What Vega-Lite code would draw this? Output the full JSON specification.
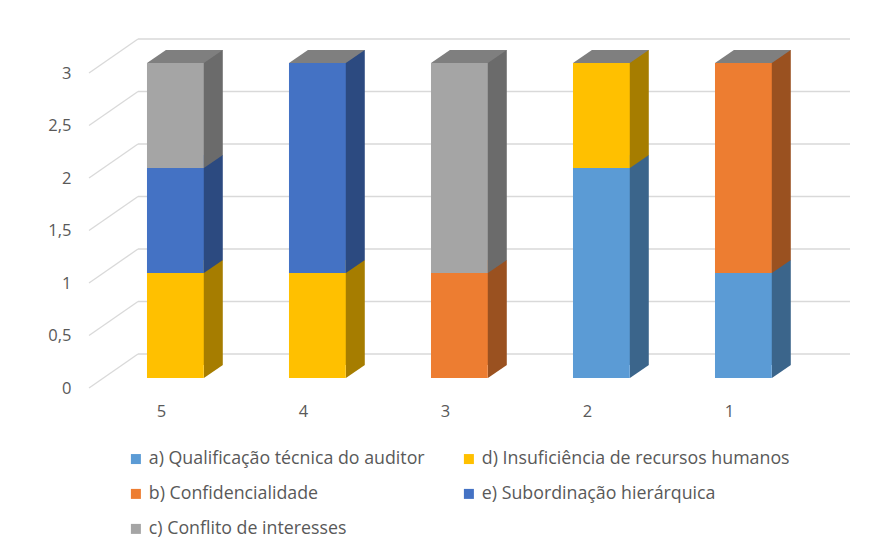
{
  "$schema": "https://vega.github.io/schema/vega-lite/v6.json",
  "autosize": "none",
  "width": 712,
  "height": 315,
  "padding": {"left": 138, "top": 63, "right": 35, "bottom": 169},
  "background": "white",
  "config": {"view": {"stroke": null}, "font": "Open Sans",
    "axisX": {"title": null, "domain": false, "ticks": false, "grid": false, "labelAngle": 0, "labelPadding": 25, "labelOffset": -14,
              "labelFont": "Open Sans", "labelFontSize": 16.5, "labelColor": "#595959"},
    "axisY": {"title": null, "domain": false, "ticks": false, "grid": false, "labelPadding": 67, "labelOffset": 10,
              "labelFont": "Open Sans", "labelFontSize": 16.5, "labelColor": "#595959"}},
  "data": {"values": [
    {"cat": "5", "series": "d) Insuficiência de recursos humanos", "value": 1, "ord": 2},
    {"cat": "5", "series": "e) Subordinação hierárquica", "value": 1, "ord": 4},
    {"cat": "5", "series": "c) Conflito de interesses", "value": 1, "ord": 5},
    {"cat": "4", "series": "d) Insuficiência de recursos humanos", "value": 1, "ord": 2},
    {"cat": "4", "series": "e) Subordinação hierárquica", "value": 2, "ord": 4},
    {"cat": "3", "series": "b) Confidencialidade", "value": 1, "ord": 3},
    {"cat": "3", "series": "c) Conflito de interesses", "value": 2, "ord": 5},
    {"cat": "2", "series": "a) Qualificação técnica do auditor", "value": 2, "ord": 1},
    {"cat": "2", "series": "d) Insuficiência de recursos humanos", "value": 1, "ord": 2},
    {"cat": "1", "series": "a) Qualificação técnica do auditor", "value": 1, "ord": 1},
    {"cat": "1", "series": "b) Confidencialidade", "value": 2, "ord": 3}
  ]},
  "resolve": {"scale": {"color": "independent"}},
  "layer": [
    {
      "data": {"values": [{"g": 0}, {"g": 0.5}, {"g": 1}, {"g": 1.5}, {"g": 2}, {"g": 2.5}, {"g": 3}]},
      "mark": {"type": "rule", "color": "#d9d9d9", "strokeWidth": 1.3, "yOffset": -24},
      "encoding": {
        "y": {"field": "g", "type": "quantitative", "scale": {"domain": [0, 3]},
              "axis": {"values": [0, 0.5, 1, 1.5, 2, 2.5, 3], "labelExpr": "replace(format(datum.value, '~g'), '.', ',')"}}
      }
    },
    {
      "data": {"values": [{"g": 0}, {"g": 0.5}, {"g": 1}, {"g": 1.5}, {"g": 2}, {"g": 2.5}, {"g": 3}]},
      "mark": {"type": "rule", "color": "#d9d9d9", "strokeWidth": 1.3, "yOffset": -24, "y2Offset": 10, "x2Offset": -49},
      "encoding": {
        "x": {"value": 0},
        "x2": {"value": 0},
        "y": {"field": "g", "type": "quantitative",
              "axis": {"values": [0, 0.5, 1, 1.5, 2, 2.5, 3], "labelExpr": "replace(format(datum.value, '~g'), '.', ',')"}},
        "y2": {"field": "g"}
      }
    },
    {
      "transform": [{"stack": "value", "groupby": ["cat"], "sort": [{"field": "ord", "order": "ascending"}], "as": ["v0", "v1"]}],
      "mark": {"type": "bar", "xOffset": 19, "x2Offset": 19, "yOffset": -13, "y2Offset": -13},
      "encoding": {
        "x": {"field": "cat", "type": "nominal", "axis": {},
              "scale": {"domain": ["5", "4", "3", "2", "1"], "paddingInner": 0.6, "paddingOuter": 0.307, "align": 0.103}},
        "y": {"field": "v1", "type": "quantitative",
              "axis": {"values": [0, 0.5, 1, 1.5, 2, 2.5, 3], "labelExpr": "replace(format(datum.value, '~g'), '.', ',')"}},
        "y2": {"field": "v0"},
        "color": {"field": "series", "type": "nominal", "legend": null,
                  "scale": {"domain": ["a) Qualificação técnica do auditor", "b) Confidencialidade", "c) Conflito de interesses", "d) Insuficiência de recursos humanos", "e) Subordinação hierárquica"],
                            "range": ["#3B658B", "#9A5120", "#6B6B6B", "#A67D00", "#2C4A80"]}}
      }
    },
    {
      "transform": [{"stack": "value", "groupby": ["cat"], "sort": [{"field": "ord", "order": "ascending"}], "as": ["v0", "v1"]}],
      "mark": {"type": "point", "shape": "M-1,-0.684L-1,0.684L1,-0.684Z", "size": 361, "filled": true, "opacity": 1, "strokeWidth": 0, "xOffset": 38, "yOffset": -6.5},
      "encoding": {
        "x": {"field": "cat", "type": "nominal", "axis": {}},
        "y": {"field": "v0", "type": "quantitative",
              "axis": {"values": [0, 0.5, 1, 1.5, 2, 2.5, 3], "labelExpr": "replace(format(datum.value, '~g'), '.', ',')"}},
        "color": {"field": "series", "type": "nominal", "legend": null,
                  "scale": {"domain": ["a) Qualificação técnica do auditor", "b) Confidencialidade", "c) Conflito de interesses", "d) Insuficiência de recursos humanos", "e) Subordinação hierárquica"],
                            "range": ["#3B658B", "#9A5120", "#6B6B6B", "#A67D00", "#2C4A80"]}}
      }
    },
    {
      "transform": [{"aggregate": [{"op": "sum", "field": "value", "as": "total"}], "groupby": ["cat"]}],
      "mark": {"type": "point", "shape": "M-1,0.1715L0.5,0.1715L1,-0.1715L-0.5,-0.1715Z", "size": 5746, "filled": true, "opacity": 1, "strokeWidth": 0, "color": "#7F7F7F", "xOffset": 9.5, "yOffset": -6.5},
      "encoding": {
        "x": {"field": "cat", "type": "nominal", "axis": {}},
        "y": {"field": "total", "type": "quantitative",
              "axis": {"values": [0, 0.5, 1, 1.5, 2, 2.5, 3], "labelExpr": "replace(format(datum.value, '~g'), '.', ',')"}}
      }
    },
    {
      "transform": [{"stack": "value", "groupby": ["cat"], "sort": [{"field": "ord", "order": "ascending"}], "as": ["v0", "v1"]}],
      "mark": {"type": "bar"},
      "encoding": {
        "x": {"field": "cat", "type": "nominal", "axis": {}},
        "y": {"field": "v1", "type": "quantitative",
              "axis": {"values": [0, 0.5, 1, 1.5, 2, 2.5, 3], "labelExpr": "replace(format(datum.value, '~g'), '.', ',')"}},
        "y2": {"field": "v0"},
        "color": {"field": "series", "type": "nominal",
                  "scale": {"domain": ["a) Qualificação técnica do auditor", "b) Confidencialidade", "c) Conflito de interesses", "d) Insuficiência de recursos humanos", "e) Subordinação hierárquica"],
                            "range": ["#5B9BD5", "#ED7D31", "#A5A5A5", "#FFC000", "#4472C4"]},
                  "legend": {"title": null, "orient": "none", "legendX": -11, "legendY": 387, "columns": 2, "direction": "vertical",
                             "symbolType": "square", "symbolSize": 100, "symbolStrokeWidth": 0, "labelOffset": 4,
                             "labelFont": "Open Sans", "labelFontSize": 17.8, "labelColor": "#595959", "labelLimit": 0,
                             "columnPadding": 35, "rowPadding": 16}}
      }
    }
  ]
}
